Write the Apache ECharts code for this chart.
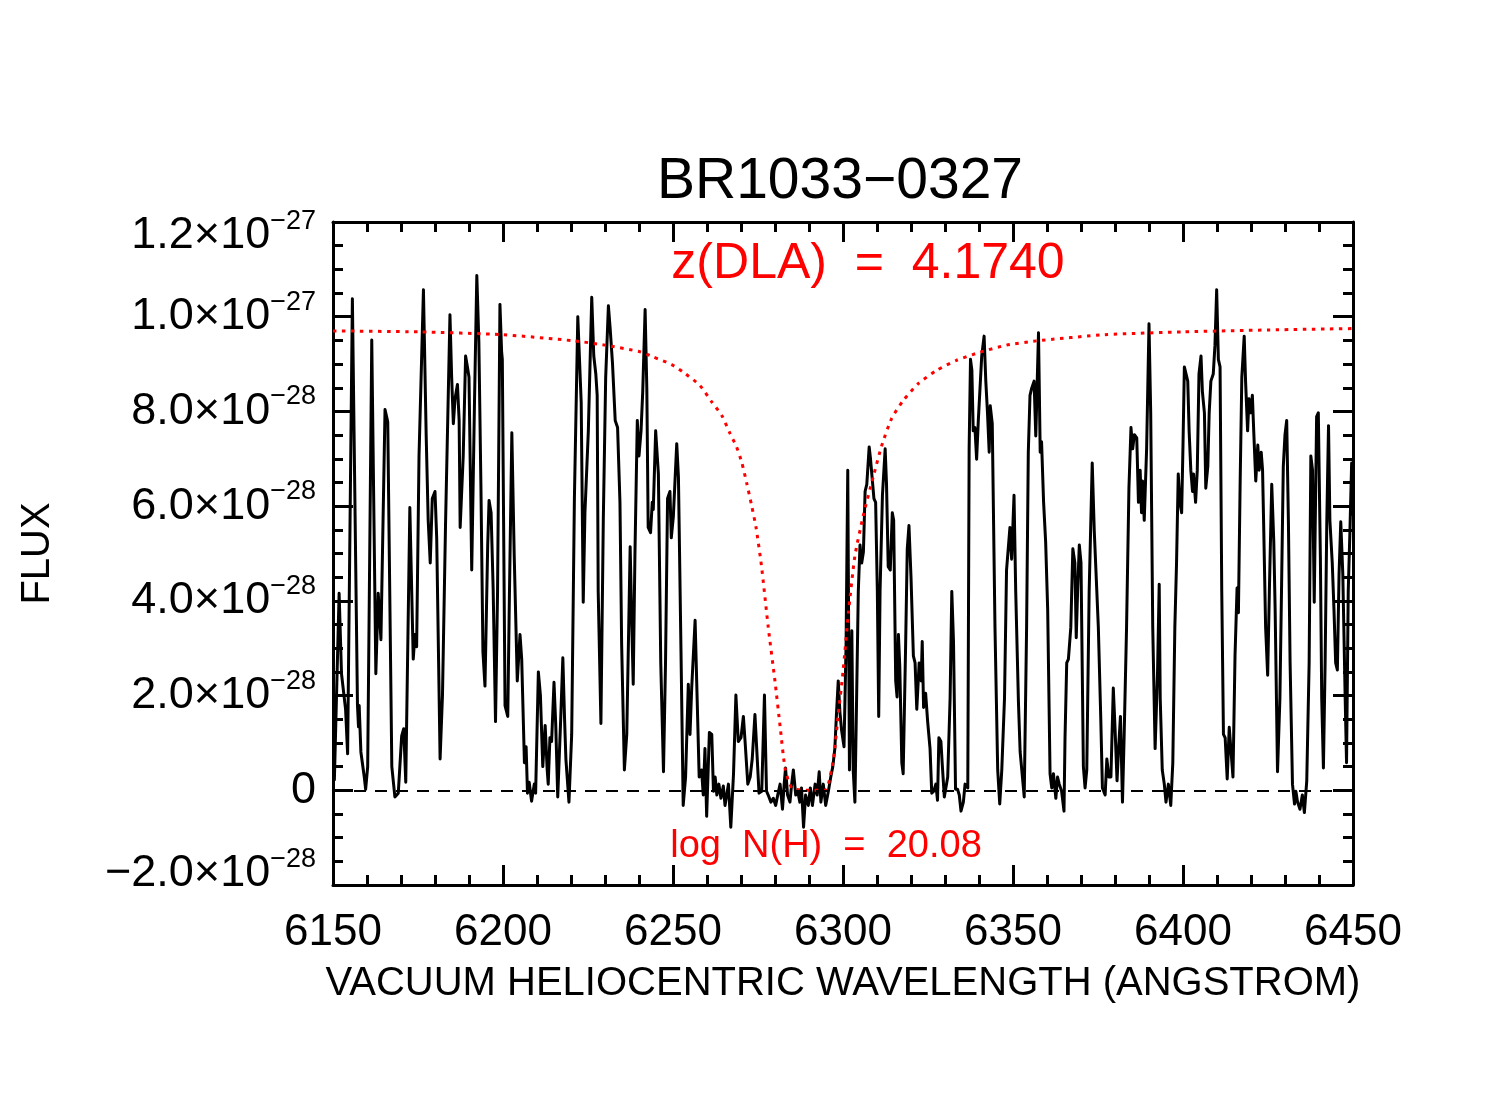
<!DOCTYPE html>
<html>
<head>
<meta charset="utf-8">
<title>BR1033-0327</title>
<script src="https://cdn.jsdelivr.net/npm/echarts@6/dist/echarts.min.js"></script>
<style>
  html, body { margin: 0; padding: 0; background: #fff; }
  #chart { width: 1503px; height: 1107px; }
</style>
</head>
<body>
<div id="chart"></div>
<script>
// wavelength (Angstrom) and flux (units of 1e-28)
const WAVE = [
  6150.4, 6151.8, 6152.5, 6153.0, 6153.7, 6154.3, 6155.7, 6157.2, 6157.5, 6157.7,
  6158.2, 6159.2, 6159.6, 6160.2, 6161.4, 6162.6, 6163.3, 6164.1, 6165.3, 6166.1,
  6167.3, 6168.2, 6169.2, 6170.2, 6170.8, 6171.4, 6172.6, 6173.6, 6174.1, 6174.6,
  6175.3, 6176.6, 6177.4, 6178.0, 6178.6, 6179.2, 6180.0, 6180.5, 6181.5, 6182.2,
  6183.1, 6183.5, 6184.4, 6184.9, 6185.4, 6185.9, 6186.6, 6187.1, 6187.4, 6187.8,
  6188.3, 6189.0, 6189.6, 6190.0, 6190.8, 6191.6, 6192.3, 6192.9, 6193.5, 6194.1,
  6194.7, 6195.5, 6195.9, 6196.5, 6197.1, 6197.8, 6198.4, 6199.1, 6199.6, 6199.8,
  6200.6, 6201.4, 6201.8, 6202.6, 6203.3, 6204.2, 6205.0, 6205.5, 6206.3, 6206.8,
  6207.2, 6207.7, 6208.4, 6209.2, 6209.6, 6210.4, 6211.0, 6211.7, 6212.4, 6213.0,
  6213.3, 6213.8, 6214.3, 6215.0, 6215.5, 6216.1, 6217.0, 6217.6, 6218.1, 6218.5,
  6219.4, 6220.2, 6221.0, 6222.0, 6223.0, 6223.6, 6224.1, 6224.6, 6225.1, 6226.1,
  6226.7, 6227.3, 6227.7, 6228.0, 6228.8, 6229.5, 6230.2, 6231.0, 6231.5, 6232.2,
  6233.0, 6233.7, 6234.4, 6234.9, 6235.7, 6236.4, 6237.4, 6237.9, 6238.3, 6238.8,
  6239.5, 6240.0, 6240.6, 6241.1, 6241.8, 6242.3, 6242.7, 6243.4, 6243.9, 6244.2,
  6244.9, 6245.7, 6246.4, 6247.2, 6247.8, 6248.4, 6249.1, 6249.5, 6250.1, 6251.1,
  6251.6, 6252.4, 6253.0, 6253.7, 6254.5, 6255.0, 6255.5, 6256.5, 6257.1, 6257.7,
  6258.4, 6258.9, 6259.4, 6259.9, 6260.7, 6261.4, 6261.9, 6262.4, 6262.9, 6263.5,
  6264.1, 6264.8, 6265.3, 6266.3, 6267.0, 6267.8, 6268.5, 6269.2, 6270.0, 6270.7,
  6271.2, 6272.0, 6272.7, 6273.3, 6274.1, 6274.6, 6275.3, 6276.1, 6276.9, 6277.5,
  6278.0, 6278.8, 6279.5, 6280.2, 6280.8, 6281.5, 6282.2, 6282.7, 6283.1, 6283.7,
  6284.4, 6284.9, 6285.4, 6286.1, 6286.7, 6287.3, 6287.8, 6288.4, 6289.0, 6289.8,
  6290.4, 6291.0, 6291.8, 6292.4, 6293.0, 6293.5, 6294.2, 6294.9, 6295.7, 6296.4,
  6297.0, 6297.6, 6298.1, 6298.6, 6299.1, 6299.6, 6300.3, 6300.9, 6301.4, 6301.9,
  6302.6, 6303.0, 6303.5, 6304.0, 6304.5, 6305.0, 6305.5, 6306.0, 6306.5, 6307.0,
  6307.7, 6308.1, 6308.6, 6309.1, 6309.6, 6310.1, 6310.5, 6310.9, 6311.6, 6312.4,
  6312.8, 6313.3, 6313.9, 6314.5, 6314.9, 6315.5, 6315.9, 6316.3, 6316.7, 6317.3,
  6317.7, 6318.4, 6318.9, 6319.4, 6320.0, 6320.7, 6321.2, 6321.7, 6322.4, 6323.0,
  6323.3, 6323.7, 6324.3, 6324.9, 6325.6, 6326.1, 6326.7, 6327.3, 6327.8, 6328.2,
  6328.8, 6329.2, 6329.8, 6330.3, 6330.8, 6331.5, 6332.0, 6332.5, 6333.1, 6333.7,
  6334.2, 6334.7, 6335.4, 6335.9, 6336.7, 6337.1, 6337.5, 6337.9, 6338.3, 6338.8,
  6339.3, 6339.8, 6340.3, 6340.8, 6341.5, 6342.0, 6342.5, 6343.0, 6343.3, 6343.9,
  6344.7, 6345.5, 6346.1, 6346.7, 6347.5, 6348.1, 6348.6, 6349.1, 6349.6, 6350.3,
  6350.8, 6351.6, 6352.1, 6353.3, 6354.0, 6354.5, 6355.0, 6355.5, 6356.2, 6356.7,
  6357.5, 6358.0, 6358.4, 6359.0, 6359.6, 6360.2, 6360.9, 6361.4, 6361.9, 6362.6,
  6363.1, 6363.6, 6364.3, 6365.0, 6365.3, 6365.8, 6366.3, 6367.0, 6367.6, 6368.2,
  6368.6, 6369.0, 6369.5, 6370.0, 6370.7, 6371.2, 6371.7, 6372.4, 6373.3, 6373.9,
  6374.4, 6375.1, 6375.8, 6376.3, 6377.1, 6377.6, 6378.2, 6378.8, 6379.5, 6380.0,
  6380.6, 6381.0, 6381.6, 6382.2, 6382.7, 6383.4, 6384.1, 6384.7, 6385.2, 6385.7,
  6386.4, 6386.9, 6387.4, 6387.8, 6388.1, 6388.6, 6389.3, 6390.0, 6390.5, 6391.1,
  6391.8, 6392.5, 6393.0, 6393.3, 6393.9, 6394.5, 6395.0, 6395.7, 6396.4, 6397.0,
  6397.6, 6398.1, 6398.6, 6399.1, 6399.6, 6400.0, 6400.4, 6400.8, 6401.4, 6401.8,
  6402.3, 6402.8, 6403.1, 6403.7, 6404.2, 6404.7, 6405.3, 6405.7, 6406.3, 6406.7,
  6407.3, 6407.7, 6408.2, 6408.9, 6409.4, 6409.9, 6410.4, 6410.9, 6411.4, 6411.9,
  6412.4, 6413.0, 6413.6, 6414.1, 6414.7, 6415.3, 6415.9, 6416.3, 6416.8, 6417.3,
  6418.0, 6418.4, 6419.0, 6419.4, 6419.9, 6420.4, 6420.8, 6421.4, 6422.0, 6422.4,
  6423.0, 6423.4, 6423.7, 6424.3, 6424.9, 6425.4, 6426.1, 6426.7, 6427.1, 6427.8,
  6428.5, 6429.0, 6429.5, 6430.0, 6430.5, 6431.0, 6431.5, 6432.2, 6432.8, 6433.2,
  6433.7, 6434.4, 6435.1, 6435.7, 6436.4, 6437.1, 6437.6, 6438.1, 6438.6, 6439.3,
  6439.8, 6440.4, 6440.8, 6441.3, 6441.8, 6442.3, 6442.8, 6443.2, 6443.9, 6444.4,
  6444.9, 6445.4, 6445.9, 6446.4, 6447.0, 6447.7, 6448.1, 6448.6, 6449.1, 6449.6,
  6450.0
];
const FLUX = [
  0.20, 4.16, 2.46, 2.43, 1.71, 0.77, 10.38, 1.79, 1.34, 1.79,
  0.81, 0.28, 0.02, 0.50, 9.51, 2.46, 4.16, 3.18, 8.04, 7.78,
  0.50, -0.14, -0.06, 1.15, 1.30, 0.17, 5.97, 2.77, 3.29, 3.03,
  7.06, 10.57, 7.51, 5.70, 4.80, 6.16, 6.31, 5.33, 0.66, 2.01,
  5.63, 6.99, 10.04, 8.72, 7.74, 8.27, 8.57, 7.81, 5.55, 5.55,
  7.06, 9.17, 8.91, 8.72, 4.65, 8.12, 10.87, 9.47, 6.46, 2.92,
  2.20, 5.18, 6.12, 5.86, 4.27, 1.45, 4.20, 10.26, 9.25, 9.10,
  1.79, 1.56, 3.67, 7.55, 4.95, 2.31, 3.29, 2.77, 0.58, 0.92,
  -0.06, 0.17, -0.23, 0.13, -0.06, 2.50, 2.01, 0.50, 1.37, 0.43,
  0.13, 1.11, 1.03, 2.28, 1.41, -0.14, 1.56, 2.80, 1.52, 0.66,
  -0.25, 1.18, 6.16, 10.00, 8.19, 3.97, 5.86, 5.86, 7.59, 10.41,
  9.17, 8.79, 8.34, 4.20, 1.41, 5.70, 8.72, 10.23, 9.77, 9.02,
  7.81, 7.66, 6.08, 3.07, 0.43, 1.18, 5.14, 3.44, 2.24, 4.95,
  7.81, 7.06, 7.59, 8.42, 10.15, 8.49, 5.55, 5.44, 6.08, 5.93,
  7.59, 6.68, 2.69, 0.39, 2.69, 6.16, 6.31, 5.33, 5.78, 7.32,
  6.61, 2.69, -0.32, 0.28, 2.24, 1.18, 2.16, 3.59, 1.94, 0.28,
  0.43, -0.10, 0.88, -0.55, 1.22, 1.18, -0.02, 0.28, -0.10, 0.13,
  -0.17, 0.09, -0.32, 0.13, -0.78, 0.35, 2.01, 1.03, 1.11, 1.56,
  1.03, 0.13, 0.28, 0.66, 1.60, 1.56, -0.06, -0.02, 2.01, -0.02,
  -0.10, -0.25, -0.17, -0.32, -0.10, 0.13, -0.40, 0.13, 0.47, -0.10,
  -0.25, 0.13, 0.43, -0.10, -0.02, -0.25, 0.05, -0.78, -0.10, -0.32,
  0.05, -0.32, 0.13, -0.10, 0.39, -0.25, 0.13, -0.32, -0.02, 0.28,
  0.50, 0.88, 1.64, 2.31, 1.64, 1.26, 0.92, 3.07, 6.76, 0.43,
  3.37, 0.43, -0.25, 1.94, 4.20, 5.18, 4.80, 5.03, 6.31, 6.46,
  7.25, 6.99, 7.02, 6.16, 6.08, 4.20, 1.56, 4.20, 6.23, 7.21,
  6.46, 4.72, 4.65, 5.86, 5.70, 2.31, 1.97, 3.29, 2.61, 0.58,
  0.35, 2.99, 5.10, 5.59, 4.50, 2.84, 2.69, 1.71, 2.69, 2.31,
  3.14, 1.75, 2.05, 1.45, 0.88, -0.06, -0.02, 0.13, -0.21, 1.11,
  1.03, 0.54, -0.14, -0.17, 0.28, 1.94, 4.20, 3.14, 0.02, 0.02,
  -0.10, -0.44, -0.25, 0.13, 0.05, 7.21, 9.10, 8.87, 7.59, 7.66,
  6.99, 7.81, 7.81, 9.17, 9.59, 8.64, 7.97, 7.14, 8.12, 7.74,
  3.44, 0.43, -0.29, 0.43, 1.94, 4.65, 4.65, 5.55, 4.88, 6.23,
  4.20, 1.86, 0.81, -0.14, 3.44, 7.14, 8.34, 8.49, 8.64, 7.48,
  9.66, 7.14, 7.36, 6.08, 5.25, 3.82, 0.35, 0.05, 0.35, -0.17,
  0.28, 0.13, -0.02, -0.44, 1.11, 2.69, 2.77, 3.44, 5.10, 4.80,
  3.22, 4.20, 5.18, 4.80, 0.50, 0.05, 0.43, 4.20, 6.91, 5.48,
  5.48, 3.44, 1.56, 0.05, -0.10, 0.66, 0.28, 0.28, 2.16, 1.33,
  0.20, 0.81, 1.56, -0.25, 1.18, 3.44, 6.38, 7.66, 7.21, 7.51,
  7.44, 6.08, 6.76, 5.86, 6.53, 5.70, 7.21, 9.85, 7.97, 3.44,
  0.88, 2.46, 4.35, 1.94, 0.43, 0.13, -0.25, 0.13, -0.32, 0.58,
  3.44, 4.80, 6.68, 6.08, 5.86, 7.29, 8.94, 8.98, 8.64, 7.59,
  6.76, 6.31, 6.68, 6.08, 6.76, 8.79, 9.17, 8.42, 7.97, 6.38,
  6.84, 7.97, 8.64, 8.79, 9.40, 10.57, 9.10, 8.94, 4.20, 1.18,
  1.11, 0.24, 1.33, 1.33, 0.28, 2.84, 4.27, 3.75, 6.46, 8.72,
  9.59, 8.64, 7.59, 8.27, 7.97, 8.34, 7.59, 6.53, 7.29, 6.76,
  7.14, 6.76, 5.70, 3.44, 2.43, 4.20, 6.46, 5.25, 3.82, 0.39,
  1.94, 4.35, 6.84, 7.51, 7.81, 5.70, 2.69, 0.13, -0.29, -0.02,
  -0.25, -0.40, -0.10, -0.47, 0.20, 2.69, 7.06, 6.76, 3.97, 7.89,
  7.97, 4.95, 1.94, 0.47, 2.69, 5.70, 7.70, 5.70, 4.80, 3.82,
  2.69, 2.54, 4.57, 5.67, 4.57, 1.94, 0.58, 4.20, 5.48, 6.91,
  5.80
];

// damped Lyman-alpha model (red dotted)
const MODEL_WAVE = [
  6150, 6175, 6200, 6221, 6230, 6240.3, 6244.2, 6249.6, 6253.0, 6257.9,
  6261.4, 6264.3, 6266.8, 6268.7, 6270.2, 6271.7, 6273.1, 6274.4, 6276.0, 6278.0,
  6280.0, 6281.5, 6283.0, 6285.0, 6290.0, 6294.7, 6295.7, 6297.2, 6298.6, 6300.0,
  6301.6, 6303.5, 6306.0, 6308.9, 6311.4, 6314.3, 6317.7, 6322.2, 6327.6, 6333.4,
  6340.3, 6348.1, 6356.9, 6377, 6400, 6425, 6450
];
const MODEL_FLUX = [
  9.70, 9.68, 9.62, 9.49, 9.40, 9.26, 9.15, 8.99, 8.83, 8.55,
  8.20, 7.92, 7.53, 7.25, 6.93, 6.48, 6.02, 5.56, 4.75, 3.45,
  2.30, 1.35, 0.45, 0.05, 0.00, 0.00, 0.13, 0.66, 1.60, 2.50,
  3.75, 4.95, 5.81, 6.62, 7.28, 7.85, 8.23, 8.59, 8.87, 9.08,
  9.25, 9.40, 9.49, 9.62, 9.68, 9.72, 9.75
];

const X_TICKS = { min: 6150, max: 6450, step: 50 };
const Y_TICKS = { min: -2, max: 12, step: 2 };   // units of 1e-28

const FONT = "'Liberation Sans', Arial, Helvetica, sans-serif";

let chart = echarts.init(document.getElementById('chart'), null, { renderer: 'canvas' });

// 1.2x10^-27 style labels; end labels are nudged inwards like the original plot
function fluxLabel(v) {
    if (Math.abs(v) < 1e-9) return '{m|0}';
    let exp = Math.abs(v) >= 10 ? -27 : -28;
    let mant = Math.abs(v) / Math.pow(10, exp + 28);
    let sign = v < 0 ? '\u2212' : '';
    let txt = '{m|' + sign + mant.toFixed(1) + '\u00d710}{s|\u2212' + Math.abs(exp) + '}';
    if (v === Y_TICKS.max) return '{gt| }\n' + txt;
    if (v === Y_TICKS.min) return txt + '\n{gb| }';
    return txt;
}

const tickCommon = {
    axisLine: { show: true, onZero: false, lineStyle: { color: '#000', width: 3 } },
    axisTick: { show: true, inside: true, length: 20, lineStyle: { color: '#000', width: 3 } },
    splitLine: { show: false }
};

let option = {
    animation: false,
    backgroundColor: '#fff',
    grid: { left: 333, top: 222, width: 1020, height: 663, containLabel: false },
    xAxis: [
        Object.assign({
            type: 'value', position: 'bottom',
            min: X_TICKS.min, max: X_TICKS.max, interval: X_TICKS.step,
            minorTick: { show: true, splitNumber: 5, length: 10, lineStyle: { color: '#000', width: 3 } },
            axisLabel: { color: '#000', fontSize: 44, fontFamily: FONT, margin: 26, formatter: v => String(v) },
            name: 'VACUUM HELIOCENTRIC WAVELENGTH (ANGSTROM)',
            nameLocation: 'middle', nameGap: 79,
            nameTextStyle: { color: '#000', fontSize: 40, fontFamily: FONT }
        }, tickCommon),
        Object.assign({
            type: 'value', position: 'top',
            min: X_TICKS.min, max: X_TICKS.max, interval: X_TICKS.step,
            minorTick: { show: true, splitNumber: 5, length: 10, lineStyle: { color: '#000', width: 3 } },
            axisLabel: { show: false }
        }, tickCommon)
    ],
    yAxis: [
        Object.assign({
            type: 'value', position: 'left',
            min: Y_TICKS.min, max: Y_TICKS.max, interval: Y_TICKS.step,
            minorTick: { show: true, splitNumber: 4, length: 10, lineStyle: { color: '#000', width: 3 } },
            axisLabel: {
                margin: 17,
                formatter: fluxLabel,
                rich: {
                    m: { fontSize: 45, fontFamily: FONT, color: '#000', lineHeight: 56 },
                    s: { fontSize: 27, fontFamily: FONT, color: '#000', lineHeight: 26, verticalAlign: 'top' },
                    gt: { fontSize: 1, lineHeight: 28 },
                    gb: { fontSize: 1, lineHeight: 22 }
                }
            },
            name: 'FLUX', nameLocation: 'middle', nameGap: 275, nameRotate: 90,
            nameTextStyle: { color: '#000', fontSize: 40, fontFamily: FONT }
        }, tickCommon),
        Object.assign({
            type: 'value', position: 'right',
            min: Y_TICKS.min, max: Y_TICKS.max, interval: Y_TICKS.step,
            minorTick: { show: true, splitNumber: 4, length: 10, lineStyle: { color: '#000', width: 3 } },
            axisLabel: { show: false }
        }, tickCommon)
    ],
    graphic: [
        {
            type: 'text', x: 840, y: 182, z: 10,
            style: { text: 'BR1033\u22120327', font: '57px ' + FONT, fill: '#000', align: 'center', verticalAlign: 'middle' }
        },
        {
            type: 'text', x: 868, y: 264, z: 10,
            style: { text: 'z(DLA)  =  4.1740', font: '50px ' + FONT, fill: '#ff0000', align: 'center', verticalAlign: 'middle' }
        },
        {
            type: 'text', x: 826, y: 847, z: 10,
            style: { text: 'log  N(H)  =  20.08', font: '38px ' + FONT, fill: '#ff0000', align: 'center', verticalAlign: 'middle' }
        }
    ],
    series: [
        {
            name: 'flux', type: 'line',
            xAxisIndex: 0, yAxisIndex: 0,
            data: WAVE.map((w, i) => [w, FLUX[i]]),
            showSymbol: false, symbol: 'none', clip: true,
            lineStyle: { color: '#000', width: 3, join: 'round' },
            z: 3,
            markLine: {
                silent: true, symbol: 'none', label: { show: false },
                lineStyle: { color: '#000', width: 2, type: [12, 9] },
                data: [{ yAxis: 0 }]
            }
        },
        {
            name: 'model', type: 'line',
            xAxisIndex: 0, yAxisIndex: 0,
            data: MODEL_WAVE.map((w, i) => [w, MODEL_FLUX[i]]),
            showSymbol: false, symbol: 'none', smooth: 0.2, clip: true,
            lineStyle: { color: '#ff0000', width: 3, type: [3.5, 5.5] },
            z: 4
        }
    ]
};

chart.setOption(option);
</script>
</body>
</html>
